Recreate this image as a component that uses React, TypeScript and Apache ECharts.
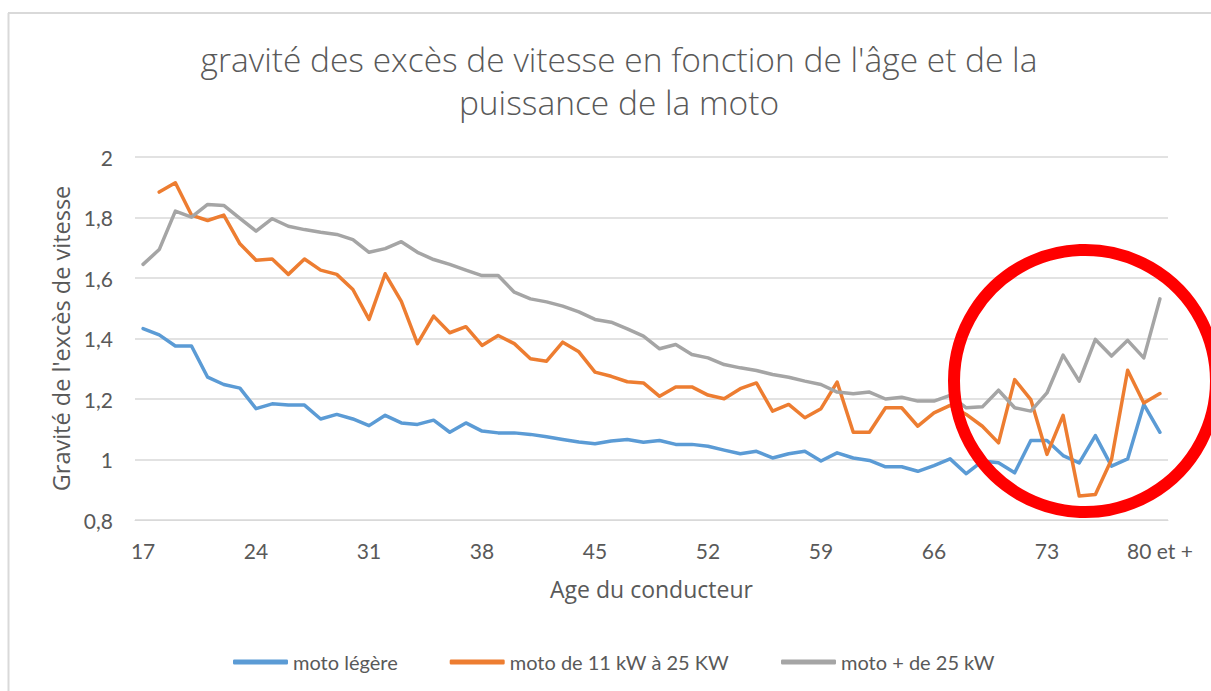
import React, { useEffect, useRef } from "react";
import * as echarts from "echarts";

const ages: string[] = [];
for (let a = 17; a <= 79; a++) ages.push(String(a));
ages.push("80 et +");

const seriesNames = ["moto légère", "moto de 11 kW à 25 KW", "moto + de 25 kW"];

const motoLegere = [
  1.433, 1.412, 1.375, 1.375, 1.272, 1.248, 1.236, 1.168, 1.184, 1.18,
  1.18, 1.134, 1.149, 1.134, 1.112, 1.146, 1.121, 1.116, 1.13, 1.09,
  1.121, 1.094, 1.088, 1.088, 1.083, 1.075, 1.066, 1.058, 1.052, 1.061,
  1.066, 1.057, 1.063, 1.05, 1.05, 1.044, 1.031, 1.019, 1.027, 1.005,
  1.019, 1.027, 0.995, 1.022, 1.005, 0.997, 0.976, 0.976, 0.961, 0.98,
  1.002, 0.953, 0.995, 0.989, 0.956, 1.063, 1.063, 1.013, 0.989, 1.079,
  0.978, 1.002, 1.182, 1.09,
];

const moto11a25 = [
  null, 1.884, 1.915, 1.808, 1.79, 1.808, 1.713, 1.659, 1.663, 1.612,
  1.663, 1.626, 1.612, 1.562, 1.463, 1.614, 1.523, 1.383, 1.474, 1.419,
  1.439, 1.377, 1.41, 1.383, 1.333, 1.325, 1.388, 1.356, 1.289, 1.275,
  1.257, 1.253, 1.209, 1.24, 1.24, 1.213, 1.201, 1.234, 1.253, 1.16,
  1.182, 1.138, 1.168, 1.256, 1.09, 1.09, 1.171, 1.171, 1.11, 1.154,
  1.179, 1.149, 1.11, 1.055, 1.264, 1.198, 1.017, 1.146, 0.879, 0.884,
  1.0, 1.295, 1.187, 1.218,
];

const motoPlus25 = [
  1.645, 1.694, 1.821, 1.801, 1.843, 1.84, 1.797, 1.755, 1.796, 1.771,
  1.76, 1.751, 1.744, 1.727, 1.685, 1.697, 1.72, 1.685, 1.661, 1.645,
  1.626, 1.608, 1.608, 1.553, 1.531, 1.521, 1.507, 1.488, 1.463, 1.454,
  1.432, 1.408, 1.366, 1.38, 1.347, 1.336, 1.314, 1.303, 1.294, 1.281,
  1.272, 1.259, 1.248, 1.223, 1.217, 1.223, 1.2, 1.206, 1.193, 1.193,
  1.212, 1.171, 1.174, 1.229, 1.171, 1.16, 1.22, 1.345, 1.259, 1.397,
  1.342, 1.394, 1.336, 1.531,
];

const colors = ["#5B9BD5", "#ED7D31", "#A5A5A5"];
const FONT = "Lato, 'Open Sans', sans-serif";
const WIDE = "'Open Sans', Lato, sans-serif";
const TXT = "#595959";

export default function App() {
  const ref = useRef<HTMLDivElement>(null);
  useEffect(() => {
    if (!ref.current) return;
    const chart = echarts.init(ref.current, null, { renderer: "svg" });
    const data = [motoLegere, moto11a25, motoPlus25];
    chart.setOption({
      animation: false,
      backgroundColor: "#ffffff",
      title: {
        text: "gravité des excès de vitesse en fonction de l'âge et de la\npuissance de la moto",
        left: 614,
        top: 32,
        textAlign: "center",
        textStyle: {
          fontFamily: WIDE,
          fontSize: 33.5,
          fontWeight: 300,
          color: TXT,
          lineHeight: 43,
        },
      },
      legend: {
        data: seriesNames,
        left: 228,
        top: 647,
        icon: "roundRect",
        itemWidth: 55,
        itemHeight: 5,
        itemGap: 52,
        textStyle: { fontFamily: FONT, fontSize: 20, color: TXT },
      },
      grid: { left: 135, right: 43, top: 157, bottom: 171 },
      xAxis: {
        type: "category",
        data: ages,
        boundaryGap: true,
        name: "Age du conducteur",
        nameLocation: "middle",
        nameGap: 57,
        nameTextStyle: { fontFamily: WIDE, fontSize: 23, color: TXT },
        axisLine: { show: true, lineStyle: { color: "#D9D9D9", width: 1 } },
        axisTick: { show: false },
        axisLabel: {
          interval: 6,
          margin: 20,
          fontFamily: FONT,
          fontSize: 21,
          color: TXT,
        },
        splitLine: { show: false },
      },
      yAxis: {
        type: "value",
        min: 0.8,
        max: 2,
        interval: 0.2,
        name: "Gravité de l'excès de vitesse",
        nameLocation: "middle",
        nameRotate: 90,
        nameGap: 60,
        nameTextStyle: { fontFamily: WIDE, fontSize: 23.5, color: TXT },
        axisLine: { show: false },
        axisTick: { show: false },
        axisLabel: {
          margin: 22,
          fontFamily: FONT,
          fontSize: 21,
          color: TXT,
          formatter: (v: number) => String(Math.round(v * 10) / 10).replace(".", ","),
        },
        splitLine: { lineStyle: { color: "#D9D9D9", width: 1.5 } },
      },
      series: seriesNames.map((n, i) => ({
        name: n,
        type: "line",
        data: data[i],
        symbol: "none",
        connectNulls: false,
        lineStyle: { color: colors[i], width: 3.5, join: "round", cap: "round" },
        itemStyle: { color: colors[i] },
      })),
      graphic: [
        {
          type: "line",
          shape: { x1: 8, y1: 13, x2: 1211, y2: 13 },
          style: { stroke: "#D9D9D9", lineWidth: 2 },
          z: 0,
        },
        {
          type: "line",
          shape: { x1: 8.5, y1: 13, x2: 8.5, y2: 691 },
          style: { stroke: "#D9D9D9", lineWidth: 2 },
          z: 0,
        },
        {
          type: "circle",
          shape: { cx: 1085, cy: 381, r: 131 },
          style: { fill: "none", stroke: "#FF0000", lineWidth: 12 },
          z: 100,
        },
      ],
    });
    return () => chart.dispose();
  }, []);
  return (
    <div
      ref={ref}
      style={{ position: "fixed", left: 0, top: 0, width: 1211, height: 691 }}
    />
  );
}
